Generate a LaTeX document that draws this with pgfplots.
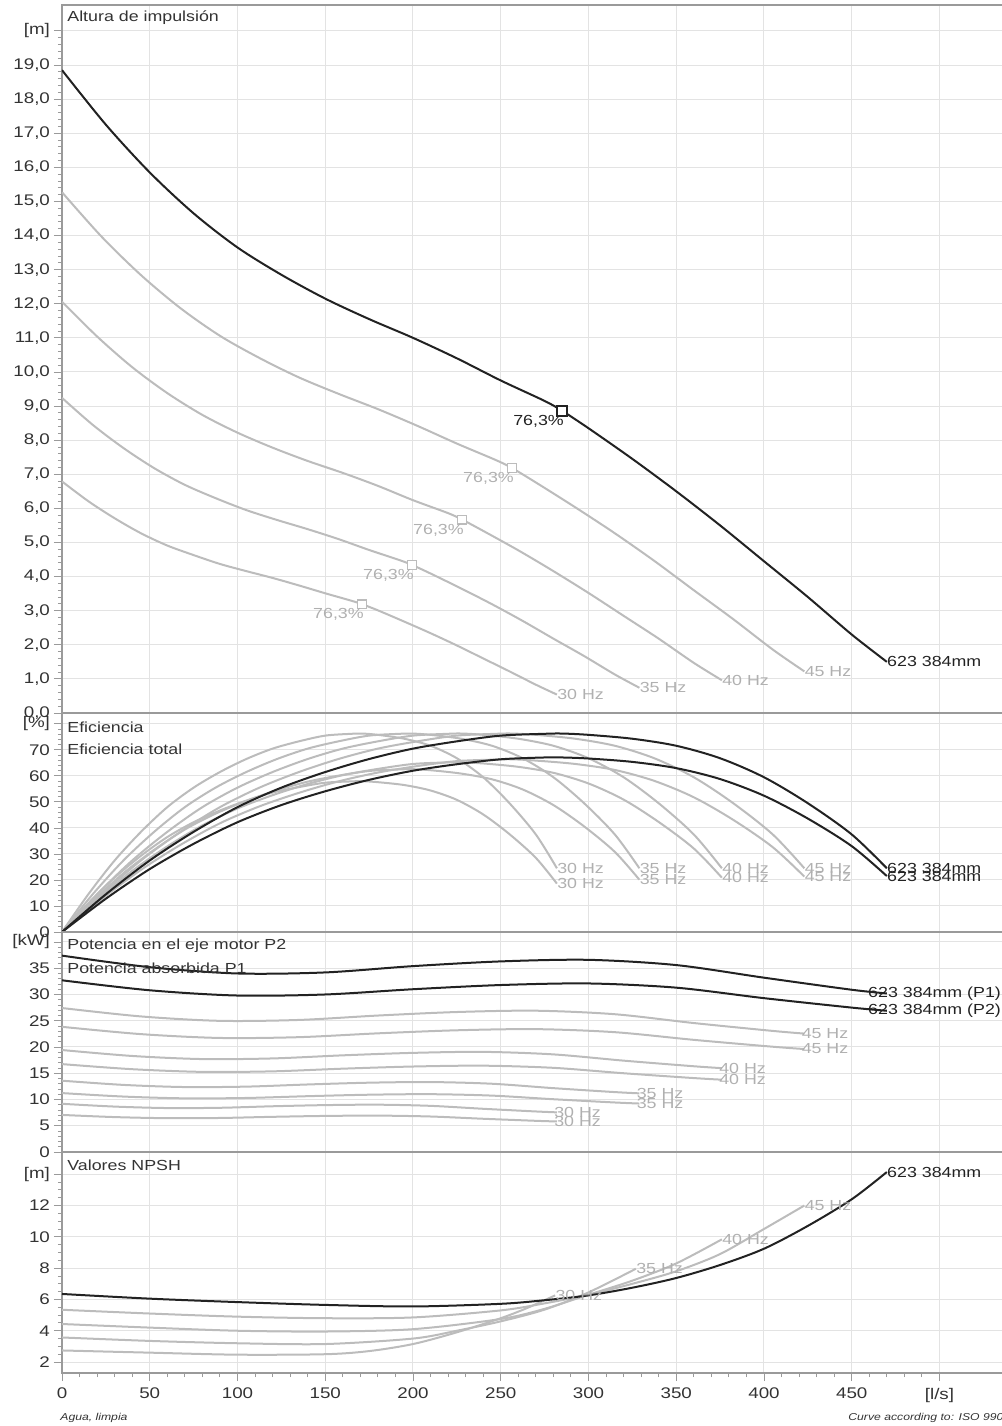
\documentclass[border=0pt]{standalone}
\usepackage{fontspec}
\setmainfont{Liberation Sans}[FakeStretch=1.22]
\usepackage{pgfplots}
\usepackage{pgfplotstable}
\pgfplotsset{compat=1.18}
\definecolor{crvk}{HTML}{222222}
\definecolor{crvg}{HTML}{BCBCBC}
\definecolor{lblg}{HTML}{B0B0B0}
\definecolor{gridc}{HTML}{E3E3E3}
\definecolor{framec}{HTML}{9A9A9A}
\definecolor{tickc}{HTML}{333333}

\pgfplotstableread{
Qa Ha Qb Hb Qc Hc Qd Hd Qe He
0 18.85 0 15.27 0 12.06 0 9.24 0 6.79
25 17.25 22.5 13.97 20 11.04 17.5 8.45 15 6.21
50 15.85 45 12.84 40 10.14 35 7.77 30 5.71
75 14.65 67.5 11.87 60 9.38 52.5 7.18 45 5.27
100 13.65 90 11.06 80 8.74 70 6.69 60 4.91
125 12.85 112.5 10.41 100 8.22 87.5 6.30 75 4.63
150 12.15 135 9.84 120 7.78 105 5.95 90 4.37
175 11.55 157.5 9.36 140 7.39 122.5 5.66 105 4.16
200 11.0 180 8.91 160 7.04 140 5.39 120 3.96
225 10.4 202.5 8.42 180 6.66 157.5 5.10 135 3.74
250 9.75 225 7.90 200 6.24 175 4.78 150 3.51
275 9.15 247.5 7.41 220 5.86 192.5 4.48 165 3.29
285 8.86 256.5 7.18 228 5.67 199.5 4.34 171 3.19
300 8.35 270 6.76 240 5.34 210 4.09 180 3.01
325 7.45 292.5 6.03 260 4.77 227.5 3.65 195 2.68
350 6.5 315 5.27 280 4.16 245 3.19 210 2.34
375 5.5 337.5 4.46 300 3.52 262.5 2.70 225 1.98
400 4.45 360 3.60 320 2.85 280 2.18 240 1.60
425 3.4 382.5 2.75 340 2.18 297.5 1.67 255 1.22
450 2.3 405 1.86 360 1.47 315 1.13 270 0.83
470 1.5 423 1.22 376 0.96 329 0.74 282 0.54
}\headtab

\pgfplotstableread{
Qa Qb Qc Qd Qe E Ta Tb Tc Td Te
0 0 0 0 0 0 0 0 0 0 0
25 22.5 20 17.5 15 14.5 12.8 12.6 12.4 11.9 11.0
50 45 40 35 30 27.5 24.2 23.9 23.5 22.6 20.9
75 67.5 60 52.5 45 38.5 33.9 33.5 32.9 31.6 29.3
100 90 80 70 60 48.0 42.2 41.8 41.0 39.4 36.5
125 112.5 100 87.5 75 55.5 48.8 48.3 47.5 45.5 42.2
150 135 120 105 90 61.5 54.1 53.5 52.6 50.4 46.7
175 157.5 140 122.5 105 66.5 58.5 57.9 56.9 54.5 50.5
200 180 160 140 120 70.5 62.0 61.3 60.3 57.8 53.6
225 202.5 180 157.5 135 73.3 64.5 63.8 62.7 60.1 55.7
250 225 200 175 150 75.5 66.4 65.7 64.6 61.9 57.4
275 247.5 220 192.5 165 76.2 67.1 66.3 65.2 62.5 57.9
285 256.5 228 199.5 171 76.3 67.1 66.4 65.2 62.6 58.0
300 270 240 210 180 75.8 66.7 65.9 64.8 62.2 57.6
325 292.5 260 227.5 195 74.3 65.4 64.6 63.5 60.9 56.5
350 315 280 245 210 71.6 63.0 62.3 61.2 58.7 54.4
375 337.5 300 262.5 225 66.8 58.8 58.1 57.1 54.8 50.8
400 360 320 280 240 59.5 52.4 51.8 50.9 48.8 45.2
425 382.5 340 297.5 255 49.5 43.6 43.1 42.3 40.6 37.6
450 405 360 315 270 37.5 33.0 32.6 32.1 30.8 28.5
470 423 376 329 282 24.5 21.5 21.3 20.9 20.1 18.6
}\efftab

\pgfplotstableread{
Qa P1a P2a Qb P1b P2b Qc P1c P2c Qd P1d P2d Qe P1e P2e
0 37.4 32.7 0 27.42 23.84 0 19.42 16.74 0 13.58 11.22 0 9.18 7.06
50 35.2 30.8 45 25.82 22.45 40 18.29 15.77 35 12.78 10.56 30 8.65 6.65
100 34.0 29.8 90 24.98 21.72 80 17.70 15.26 70 12.37 10.22 60 8.37 6.44
150 34.2 30.0 135 25.15 21.87 120 17.82 15.36 105 12.45 10.29 90 8.42 6.48
200 35.4 31.0 180 25.99 22.60 160 18.41 15.87 140 12.86 10.63 120 8.71 6.70
250 36.3 31.8 225 26.66 23.18 200 18.88 16.28 175 13.20 10.91 150 8.93 6.87
300 36.6 32.1 270 26.91 23.40 240 19.07 16.44 210 13.32 11.01 180 9.01 6.93
350 35.6 31.3 315 26.24 22.82 280 18.59 16.03 245 13.00 10.74 210 8.79 6.76
400 33.2 29.3 360 24.56 21.36 320 17.40 15.00 280 12.16 10.05 240 8.23 6.33
450 30.9 27.5 405 23.06 20.05 360 16.33 14.08 315 11.41 9.43 270 7.72 5.94
470 30.2 26.9 423 22.55 19.61 376 15.97 13.77 329 11.17 9.23 282 7.55 5.81
}\powtab

\pgfplotsset{
  panel/.style={
    scale only axis, width=473.85pt, xmin=0, xmax=540,
    anchor=south west, clip mode=individual,
    axis line style={draw=framec, line width=0.8pt},
    grid=major, grid style={draw=gridc, line width=0.5pt},
    xtick={0,50,...,500},
    tick align=outside, ytick pos=left, xtick pos=bottom,
    major tick length=4pt, minor tick length=2pt,
    tick style={draw=framec, line width=0.45pt},
    ticklabel style={font=\fontsize{7.7}{8}\selectfont, text=tickc},
    yticklabel style={xshift=1.5pt},
    /pgf/number format/assume math mode=true,
  },
  nox/.style={xticklabels={}, minor x tick num=0,
    every major x tick/.append style={draw=none},
    every minor x tick/.append style={draw=none}},
  kline/.style={draw=crvk, line width=1pt, smooth, no marks},
  gline/.style={draw=crvg, line width=1pt, smooth, no marks},
}
\tikzset{
  klab/.style={anchor=west, inner sep=0pt, text=crvk, font=\fontsize{7.3}{8}\selectfont},
  glab/.style={anchor=west, inner sep=0pt, text=lblg, font=\fontsize{7.3}{8}\selectfont},
  pctk/.style={anchor=north east, inner sep=0pt, text=crvk, font=\fontsize{7.3}{8}\selectfont, yshift=-2pt, xshift=1pt},
  pctg/.style={anchor=north east, inner sep=0pt, text=lblg, font=\fontsize{7.3}{8}\selectfont, yshift=-2pt, xshift=1pt},
}

\begin{document}
\begin{tikzpicture}
\useasboundingbox (0pt,0pt) rectangle (501pt,713pt);

% ---------- Panel 1: head ----------
\begin{axis}[panel, nox, at={(31pt,356.5pt)}, height=354pt,
  ymin=0, ymax=20.76, ytick={0,1,...,20}, minor y tick num=4,
  yticklabels={{0,0},{1,0},{2,0},{3,0},{4,0},{5,0},{6,0},{7,0},{8,0},{9,0},{10,0},{11,0},{12,0},{13,0},{14,0},{15,0},{16,0},{17,0},{18,0},{19,0},{[m]}}]
\addplot[gline] table[x=Qe,y=He] {\headtab};
\addplot[gline] table[x=Qd,y=Hd] {\headtab};
\addplot[gline] table[x=Qc,y=Hc] {\headtab};
\addplot[gline] table[x=Qb,y=Hb] {\headtab};
\addplot[kline] table[x=Qa,y=Ha] {\headtab};
\addplot[only marks, mark=square*, mark size=2.2pt, mark options={draw=crvg, fill=white, line width=0.7pt}]
  coordinates {(256.5,7.18) (228,5.67) (199.5,4.34) (171,3.19)};
\addplot[only marks, mark=square*, mark size=2.5pt, mark options={draw=crvk, fill=white, line width=1pt}]
  coordinates {(285,8.86)};
\node[pctk] at (axis cs:285,8.86) {76,3\%};
\node[pctg] at (axis cs:256.5,7.18) {76,3\%};
\node[pctg] at (axis cs:228,5.67) {76,3\%};
\node[pctg] at (axis cs:199.5,4.34) {76,3\%};
\node[pctg] at (axis cs:171,3.19) {76,3\%};
\node[glab] at (axis cs:282,0.54) {30 Hz};
\node[glab] at (axis cs:329,0.74) {35 Hz};
\node[glab] at (axis cs:376,0.96) {40 Hz};
\node[glab] at (axis cs:423,1.22) {45 Hz};
\node[klab] at (axis cs:470,1.5) {623 384mm};
\end{axis}

% ---------- Panel 2: efficiency ----------
\begin{axis}[panel, nox, at={(31pt,247pt)}, height=109.5pt,
  ymin=0, ymax=84.2, ytick={0,10,...,80}, minor y tick num=4,
  yticklabels={0,10,20,30,40,50,60,70,{[\%]}}]
\addplot[gline] table[x=Qe,y=E] {\efftab};
\addplot[gline] table[x=Qd,y=E] {\efftab};
\addplot[gline] table[x=Qc,y=E] {\efftab};
\addplot[gline] table[x=Qb,y=E] {\efftab};
\addplot[gline] table[x=Qe,y=Te] {\efftab};
\addplot[gline] table[x=Qd,y=Td] {\efftab};
\addplot[gline] table[x=Qc,y=Tc] {\efftab};
\addplot[gline] table[x=Qb,y=Tb] {\efftab};
\addplot[kline] table[x=Qa,y=E] {\efftab};
\addplot[kline] table[x=Qa,y=Ta] {\efftab};
\node[glab] at (axis cs:282,24.5) {30 Hz};
\node[glab] at (axis cs:282,18.6) {30 Hz};
\node[glab] at (axis cs:329,24.5) {35 Hz};
\node[glab] at (axis cs:329,20.1) {35 Hz};
\node[glab] at (axis cs:376,24.5) {40 Hz};
\node[glab] at (axis cs:376,20.9) {40 Hz};
\node[glab] at (axis cs:423,24.5) {45 Hz};
\node[glab] at (axis cs:423,21.3) {45 Hz};
\node[klab] at (axis cs:470,24.5) {623 384mm};
\node[klab] at (axis cs:470,21.5) {623 384mm};
\end{axis}

% ---------- Panel 3: power ----------
\begin{axis}[panel, nox, at={(31pt,137pt)}, height=110pt,
  ymin=0, ymax=41.9, ytick={0,5,...,40}, minor y tick num=4,
  yticklabels={0,5,10,15,20,25,30,35,{[kW]}}]
\addplot[gline] table[x=Qe,y=P1e] {\powtab};
\addplot[gline] table[x=Qe,y=P2e] {\powtab};
\addplot[gline] table[x=Qd,y=P1d] {\powtab};
\addplot[gline] table[x=Qd,y=P2d] {\powtab};
\addplot[gline] table[x=Qc,y=P1c] {\powtab};
\addplot[gline] table[x=Qc,y=P2c] {\powtab};
\addplot[gline] table[x=Qb,y=P1b] {\powtab};
\addplot[gline] table[x=Qb,y=P2b] {\powtab};
\addplot[kline] table[x=Qa,y=P1a] {\powtab};
\addplot[kline] table[x=Qa,y=P2a] {\powtab};
\node[glab, xshift=-1.5pt] at (axis cs:282,7.55) {30 Hz};
\node[glab, xshift=-1.5pt] at (axis cs:282,5.81) {30 Hz};
\node[glab, xshift=-1.5pt] at (axis cs:329,11.17) {35 Hz};
\node[glab, xshift=-1.5pt] at (axis cs:329,9.23) {35 Hz};
\node[glab, xshift=-1.5pt] at (axis cs:376,15.97) {40 Hz};
\node[glab, xshift=-1.5pt] at (axis cs:376,13.77) {40 Hz};
\node[glab, xshift=-1.5pt] at (axis cs:423,22.55) {45 Hz};
\node[glab, xshift=-1.5pt] at (axis cs:423,19.61) {45 Hz};
\node[klab, xshift=-9.5pt] at (axis cs:470,30.2) {623 384mm (P1)};
\node[klab, xshift=-9.5pt] at (axis cs:470,26.9) {623 384mm (P2)};
\end{axis}

% ---------- Panel 4: NPSH ----------
\begin{axis}[panel, at={(31pt,26.5pt)}, height=110.5pt,
  ymin=1.3, ymax=15.42, ytick={2,4,...,14}, minor y tick num=3,
  yticklabels={2,4,6,8,10,12,{[m]}},
  minor x tick num=4,
  xticklabels={0,50,100,150,200,250,300,350,400,450,{[l/s]}}]
\addplot[gline] coordinates {(0,2.74)(50,2.6)(100,2.47)(150,2.5)(175,2.7)(200,3.15)(225,3.9)(250,4.8)(265,5.45)(281,6.26)};
\addplot[gline] coordinates {(0,3.57)(50,3.35)(100,3.2)(150,3.15)(200,3.5)(225,4.0)(250,4.6)(275,5.35)(300,6.45)(327,7.96)};
\addplot[gline] coordinates {(0,4.43)(50,4.2)(100,4.0)(150,3.95)(200,4.1)(250,4.75)(275,5.4)(300,6.3)(325,7.2)(350,8.3)(376,9.84)};
\addplot[gline] coordinates {(0,5.34)(50,5.1)(100,4.9)(150,4.8)(200,4.85)(250,5.3)(275,5.75)(300,6.3)(325,7.0)(350,7.8)(375,8.9)(400,10.5)(423,12.0)};
\addplot[kline] coordinates {(0,6.35)(50,6.05)(100,5.83)(150,5.65)(200,5.55)(250,5.72)(275,5.95)(300,6.26)(325,6.75)(350,7.37)(375,8.2)(400,9.24)(425,10.7)(450,12.4)(470,14.14)};
\node[glab] at (axis cs:281,6.26) {30 Hz};
\node[glab] at (axis cs:327,7.96) {35 Hz};
\node[glab] at (axis cs:376,9.84) {40 Hz};
\node[glab] at (axis cs:423,12.0) {45 Hz};
\node[klab] at (axis cs:470,14.14) {623 384mm};
\end{axis}

% ---------- texts ----------
\begin{scope}[every node/.style={inner sep=0pt, text=tickc, font=\fontsize{7.3}{8}\selectfont}]
\node[anchor=west] at (33.5pt,704pt) {Altura de impulsión};
\node[anchor=west] at (33.5pt,349.5pt) {Eficiencia};
\node[anchor=west] at (33.5pt,338.5pt) {Eficiencia total};
\node[anchor=west] at (33.5pt,240pt) {Potencia en el eje motor P2};
\node[anchor=west] at (33.5pt,229pt) {Potencia absorbida P1};
\node[anchor=west] at (33.5pt,130.5pt) {Valores NPSH};
\node[anchor=west, font=\fontsize{5.0}{6}\selectfont\itshape] at (30pt,4pt) {Agua, limpia};
\node[anchor=west, font=\fontsize{5.0}{6}\selectfont\itshape] at (424pt,4pt) {Curve according to: ISO 9906};
\end{scope}
\end{tikzpicture}
\end{document}
